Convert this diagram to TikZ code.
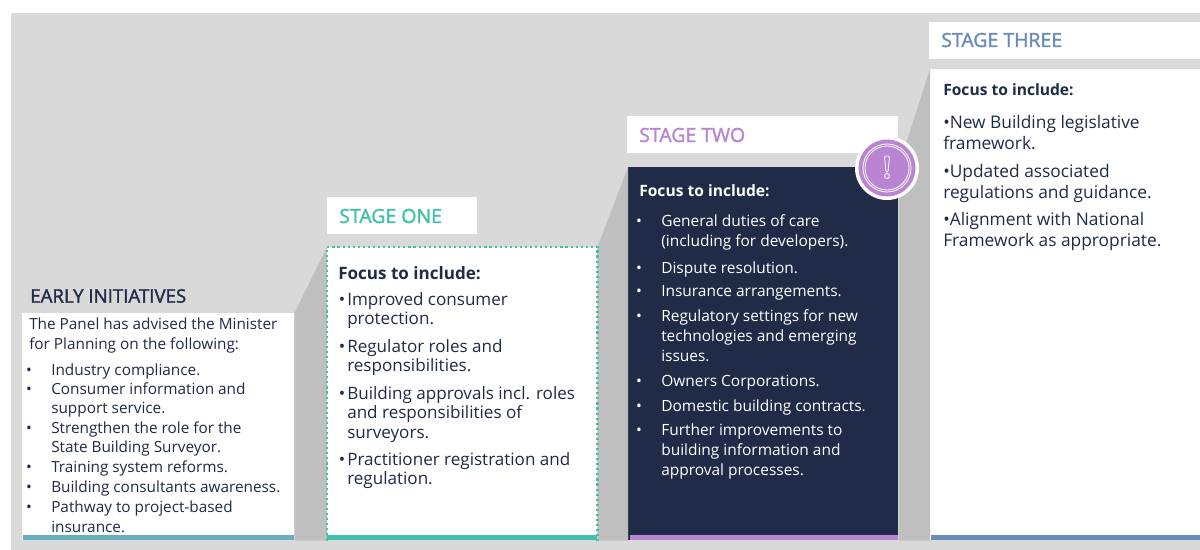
\documentclass[tikz,border=0pt]{standalone}
\usepackage{fontspec}
\usepackage{xcolor}
\usepackage{tikz}
\setmainfont{Open Sans}
\newfontfamily\headfont[FakeBold=1.6]{Open Sans}
\definecolor{panel}{HTML}{D9D9D9}
\definecolor{wedge}{HTML}{BFBFBF}
\definecolor{navy}{HTML}{1F2B47}
\definecolor{early}{HTML}{68AEBB}
\definecolor{one}{HTML}{40C1A8}
\definecolor{two}{HTML}{B985D3}
\definecolor{three}{HTML}{6A8BBA}
\newcommand\px{0.75pt}
\newcommand\itm{\llap{\textbullet\hspace{14.5pt}}}
\newcommand\tgt{\llap{\textbullet\hspace{1.5pt}}}
\tikzset{
  titlebox/.style={fill=white,anchor=north west,inner sep=0pt,minimum height=37*\px},
  stagebox/.style={fill=white,anchor=north west,inner sep=0pt},
  barline/.style={anchor=south west,inner sep=0pt,minimum height=5*\px},
  titletxt/.style={anchor=west,inner sep=0pt,font=\fontsize{14.6}{17}\headfont},
  focustxt/.style={anchor=west,inner sep=0pt,text=navy,font=\fontsize{11.7}{14}\selectfont\bfseries},
  bodytxt/.style={anchor=north west,inner sep=0pt,align=left,text=navy,execute at begin node=\strut,
    font=\fontsize{11.5}{14.7}\selectfont},
  onetxt/.style={bodytxt,font=\fontsize{12.8}{14.7}\selectfont},
  whitetxt/.style={bodytxt,text=white,font=\fontsize{11.6}{15}\selectfont},
  threetxt/.style={bodytxt,font=\fontsize{13}{16}\selectfont},
}
\begin{document}
\begin{tikzpicture}[x=\px,y=-\px]
    \useasboundingbox (0,0) rectangle (1200,550);
    \fill[panel] (11,13) rectangle (1200,550);

    \node[stagebox,minimum width=272*\px,minimum height=227*\px] (E) at (22,313) {};
    \node[stagebox,minimum width=270*\px,minimum height=293*\px] (O) at (327,247) {};
    \node[stagebox,fill=navy,minimum width=270*\px,minimum height=373*\px] (W) at (628,167) {};
    \node[stagebox,minimum width=270*\px,minimum height=471*\px] (T) at (930,69) {};

    \fill[wedge] (E.north east) -- (O.north west) -- (O.south west) -- (E.south east) -- cycle;
    \fill[wedge] (O.north east) -- (W.north west) -- (W.south west) -- (O.south east) -- cycle;
    \fill[wedge] (W.north east) -- (T.north west) -- (T.south west) -- (W.south east) -- cycle;

    \draw[one,line width=1.6pt,dash pattern=on 1.6pt off 2.2pt] (O.south west) -- (O.north west) -- (O.north east) -- (O.south east);

    \node[barline,fill=early,minimum width=271*\px] (Ebar) at (23,540) {};
    \node[barline,fill=one,minimum width=270*\px] (Obar) at (327,540) {};
    \node[barline,fill=two,minimum width=268*\px] (Wbar) at (630,540) {};
    \node[barline,fill=three,minimum width=269*\px] (Tbar) at (931,540) {};

    \node[titlebox,minimum width=150*\px] (Ohead) at (327,197) {};
    \node[titlebox,minimum width=271*\px] (Whead) at (627,116) {};
    \node[titlebox,minimum width=271*\px] (Thead) at (929,22) {};

    \path
    (30,296) node[titletxt,text=navy,font=\fontsize{14}{15}\headfont] (Etxt) {EARLY INITIATIVES}
    (339,216) node[titletxt,text=one] (Otxt) {STAGE ONE}
    (639,135) node[titletxt,text=two] (Wtxt) {STAGE TWO}
    (941,40) node[titletxt,text=three] (Ttxt) {STAGE THREE}
    ;

    % early initiatives
    \path
    (29,318) node[bodytxt] (E0) {The Panel has advised the Minister\\for Planning on the following:}
    (51,362) node[bodytxt] (E1) {\itm Industry compliance.}
    (51,382) node[bodytxt] (E2) {\itm Consumer information and\\support service.}
    (51,421) node[bodytxt] (E3) {\itm Strengthen the role for the\\State Building Surveyor.}
    (51,459) node[bodytxt] (E4) {\itm Training system reforms.}
    (51,479) node[bodytxt] (E5) {\itm Building consultants awareness.}
    (51,501) node[bodytxt] (E6) {\itm Pathway to project-based\\insurance.}
    ;

    % stage one
    \node[focustxt,font=\fontsize{12.8}{14}\selectfont\bfseries] (Ofoc) at (338,273) {Focus to include:};
    \path
    (347,292) node[onetxt] (O1) {\tgt Improved consumer\\protection.}
    (347,339) node[onetxt] (O2) {\tgt Regulator roles and\\responsibilities.}
    (347,386) node[onetxt] (O3) {\tgt Building approvals incl. roles\\and responsibilities of\\surveyors.}
    (347,452) node[onetxt] (O4) {\tgt Practitioner registration and\\regulation.}
    ;

    % stage two
    \node[focustxt,text=white] (Wfoc) at (639,191) {Focus to include:};
    \path
    (661,214) node[whitetxt] (W1) {\itm General duties of care\\(including for developers).}
    (661,259) node[whitetxt] (W2) {\itm Dispute resolution.}
    (661,282) node[whitetxt] (W3) {\itm Insurance arrangements.}
    (661,309) node[whitetxt] (W4) {\itm Regulatory settings for new\\technologies and emerging\\issues.}
    (661,372) node[whitetxt] (W5) {\itm Owners Corporations.}
    (661,397) node[whitetxt] (W6) {\itm Domestic building contracts.}
    (661,423) node[whitetxt] (W7) {\itm Further improvements to\\building information and\\approval processes.}
    ;

    % stage three
    \node[focustxt] (Tfoc) at (943,90) {Focus to include:};
    \path
    (943,115) node[threetxt] (T1) {\textbullet New Building legislative\\framework.}
    (943,164) node[threetxt] (T2) {\textbullet Updated associated\\regulations and guidance.}
    (943,212) node[threetxt] (T3) {\textbullet Alignment with National\\Framework as appropriate.}
    ;

    % badge
    \node[circle,fill=white,inner sep=0pt,minimum size=64*\px] (B) at (887,168) {};
    \node[circle,fill=two,inner sep=0pt,minimum size=57*\px] (Bin) at (B) {};
    \node[circle,draw=white,line width=0.6pt,inner sep=0pt,minimum size=48*\px] (Br1) at (B) {};
    \node[circle,draw=white,line width=0.6pt,inner sep=0pt,minimum size=44*\px] (Br2) at (B) {};
    \draw[white,line width=0.6pt,rounded corners=1pt] (884.5,156) -- (889.5,156) -- (888,172) -- (886,172) -- cycle;
    \node[circle,draw=white,line width=0.6pt,inner sep=0pt,minimum size=5*\px] (Bdot) at (887,176) {};
\end{tikzpicture}
\end{document}
